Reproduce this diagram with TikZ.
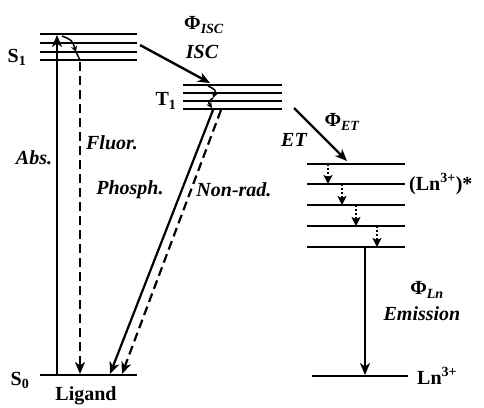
\documentclass[tikz,border=0pt]{standalone}
\usepackage{fontspec}
\setmainfont{Liberation Serif}
\usetikzlibrary{arrows.meta}
\begin{document}
\begin{tikzpicture}[x=1pt,y=-1pt,
  lvl/.style={line width=2pt},
  arr/.style={line width=2.2pt,-{Stealth[length=12pt,width=10pt,inset=3.5pt]}},
  darr/.style={arr,dash pattern=on 9pt off 5pt},
  tarr/.style={line width=1.8pt,dash pattern=on 2pt off 2pt,-{Stealth[length=9pt,width=9pt,inset=2pt]}},
  small/.style={line width=1.5pt,-{Stealth[length=6pt,width=6pt]}},
  lbl/.style={font=\fontsize{20}{22}\selectfont\bfseries\itshape,inner sep=0pt},
  up/.style={font=\fontsize{20}{22}\selectfont\bfseries,inner sep=0pt}]
\useasboundingbox (0,0) rectangle (484,407);
% ligand S1 levels
\foreach \y [count=\i] in {34,43,52,60}{
  \coordinate (s1l\i) at (40,\y); \coordinate (s1r\i) at (137,\y);
  \draw[lvl] (s1l\i) -- (s1r\i);}
% T1 levels
\foreach \y [count=\i] in {85,93,101,109}{
  \coordinate (t1l\i) at (183,\y); \coordinate (t1r\i) at (282,\y);
  \draw[lvl] (t1l\i) -- (t1r\i);}
% Ln excited levels
\foreach \y [count=\i] in {164,184,205,226,247}{
  \coordinate (lnl\i) at (307,\y); \coordinate (lnr\i) at (405,\y);
  \draw[lvl] (lnl\i) -- (lnr\i);}
% ground levels
\coordinate (s0l) at (40,375); \coordinate (s0r) at (137,375);
\draw[lvl] (s0l) -- (s0r);
\coordinate (gl) at (312,376); \coordinate (gr) at (408,376);
\draw[lvl] (gl) -- (gr);
% level labels
\node[up] (S1) at (17,57) {S\textsubscript{1}};
\node[up] (T1) at (166,101) {T\textsubscript{1}};
\node[up] (S0) at (20,380) {S\textsubscript{0}};
\node[up] (lig) at (86,396) {Ligand};
\node[up,anchor=west] (lnx) at (409,184) {(Ln\textsuperscript{3+})*};
\node[up,anchor=west] (lng) at (417,376) {Ln\textsuperscript{3+}};
% absorption & fluorescence
\coordinate (absA) at (57,375); \coordinate (absB) at (57,35);
\draw[arr] (absA) -- (absB);
\coordinate (flA) at (80,62); \coordinate (flB) at (80,374);
\draw[darr] (flA) -- (flB);
\coordinate (v1) at (62,36); \coordinate (v2) at (76,52); \coordinate (v3) at (80,60);
\draw[small] (v1) .. controls (72,40) .. (v2);
\draw[line width=1.5pt] (v2) -- (v3);
% ISC
\coordinate (iscA) at (140,45); \coordinate (iscB) at (210,83);
\draw[arr,line width=2.4pt] (iscA) -- (iscB);
\coordinate (w1) at (208,86); \coordinate (w2) at (213,98); \coordinate (w3) at (212,108);
\draw[small] (w1) .. controls (216,90) .. (w2);
\draw[small] (w2) .. controls (208,102) .. (w3);
% phosphorescence & non-radiative
\coordinate (phA) at (213,110); \coordinate (phB) at (110,374);
\draw[arr] (phA) -- (phB);
\coordinate (nrA) at (221,110); \coordinate (nrB) at (122,374);
\draw[darr] (nrA) -- (nrB);
% energy transfer
\coordinate (etA) at (294,108); \coordinate (etB) at (347,161);
\draw[arr,line width=2.4pt] (etA) -- (etB);
% dotted relaxation
\coordinate (d1a) at (328,164); \coordinate (d1b) at (328,184);
\coordinate (d2a) at (342,184); \coordinate (d2b) at (342,205);
\coordinate (d3a) at (356,205); \coordinate (d3b) at (356,226);
\coordinate (d4a) at (377,226); \coordinate (d4b) at (377,247);
\draw[tarr] (d1a) -- (d1b);
\draw[tarr] (d2a) -- (d2b);
\draw[tarr] (d3a) -- (d3b);
\draw[tarr] (d4a) -- (d4b);
% emission
\coordinate (emA) at (365,247); \coordinate (emB) at (365,375);
\draw[arr] (emA) -- (emB);
% process labels
\node[lbl] (labs) at (34,158) {Abs.};
\node[lbl] (lfl) at (112,143) {Fluor.};
\node[lbl] (lph) at (130,190) {Phosph.};
\node[lbl] (lnr) at (234,190) {Non-rad.};
\node[up] (phisc) at (204,25) {Φ\textsubscript{\itshape ISC}};
\node[lbl] (lisc) at (202,52) {ISC};
\node[up] (phet) at (342,122) {Φ\textsubscript{\itshape ET}};
\node[lbl] (let) at (294,140) {ET};
\node[up] (phln) at (427,290) {Φ\textsubscript{\itshape Ln}};
\node[lbl] (lem) at (422,314) {Emission};
\end{tikzpicture}
\end{document}
